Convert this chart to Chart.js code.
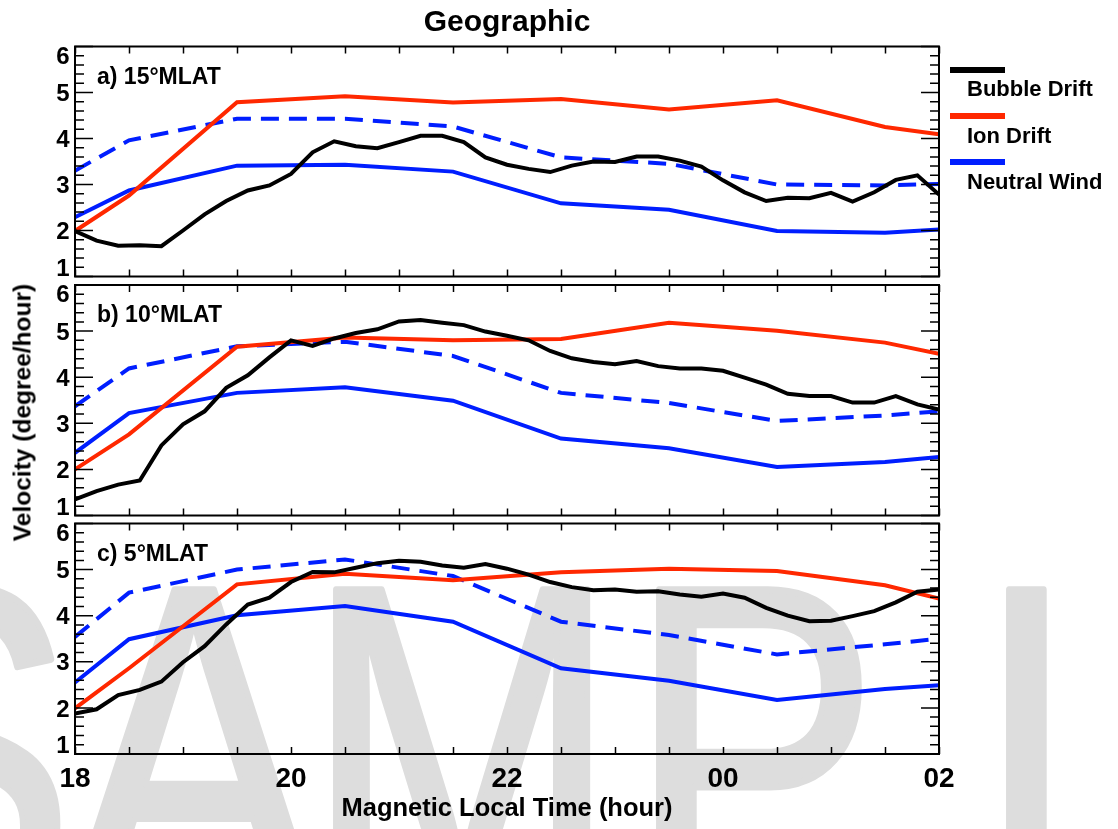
<!DOCTYPE html>
<html>
<head>
<meta charset="utf-8">
<script src="https://cdn.jsdelivr.net/npm/chart.js@4.4.0/dist/chart.umd.min.js"></script>
<style>
  html, body { margin: 0; padding: 0; background: #fff; }
  #wrap { position: relative; width: 1118px; height: 829px; overflow: hidden; font-family: "Liberation Sans", Arial, sans-serif; color: #000; }
  canvas { position: absolute; left: 0; }
  .txt { position: absolute; white-space: nowrap; line-height: 1; font-weight: bold; }
  .key { position: absolute; left: 950px; width: 55px; height: 6px; }
</style>
</head>
<body>
<div id="wrap">
  <canvas id="pa" width="1118" height="281" style="top:0px"></canvas>
  <canvas id="pb" width="1118" height="239" style="top:281px"></canvas>
  <canvas id="pc" width="1118" height="309" style="top:520px"></canvas>

  <div class="txt" style="left:257px; top:5.6px; width:500px; text-align:center; font-size:30px;">Geographic</div>
  <div class="txt" style="left:207px; top:795.4px; width:600px; text-align:center; font-size:25.5px;">Magnetic Local Time (hour)</div>
  <div class="txt" style="left:-177.3px; top:399.5px; width:400px; height:25px; text-align:center; font-size:24.5px; transform:rotate(-90deg);">Velocity (degree/hour)</div>

  <div class="key" style="top:67px; background:#000;"></div>
  <div class="txt" style="left:967px; top:78.1px; font-size:22px;">Bubble Drift</div>
  <div class="key" style="top:113px; background:rgb(255,40,0);"></div>
  <div class="txt" style="left:967px; top:124.7px; font-size:22px;">Ion Drift</div>
  <div class="key" style="top:159px; background:rgb(0,30,255);"></div>
  <div class="txt" style="left:967px; top:170.7px; font-size:22px;">Neutral Wind</div>
</div>

<script>
// magnetic local time of the samples (24 = 00, 26 = 02)
const bubbleHours = [18.0, 18.2, 18.4, 18.6, 18.8, 19.0, 19.2, 19.4, 19.6, 19.8,
                     20.0, 20.2, 20.4, 20.6, 20.8, 21.0, 21.2, 21.4, 21.6, 21.8,
                     22.0, 22.2, 22.4, 22.6, 22.8, 23.0, 23.2, 23.4, 23.6, 23.8,
                     24.0, 24.2, 24.4, 24.6, 24.8, 25.0, 25.2, 25.4, 25.6, 25.8, 26.0];
const modelHours = [18, 18.5, 19.5, 20.5, 21.5, 22.5, 23.5, 24.5, 25.5, 26];

// a) 15 MLAT
const bubble15 = [1.99, 1.78, 1.67, 1.68, 1.66, 2.00, 2.35, 2.64, 2.87, 2.98,
                  3.23, 3.70, 3.94, 3.83, 3.79, 3.92, 4.06, 4.06, 3.92, 3.59,
                  3.43, 3.34, 3.27, 3.41, 3.50, 3.49, 3.61, 3.61, 3.52, 3.39,
                  3.09, 2.83, 2.64, 2.71, 2.70, 2.82, 2.63, 2.83, 3.10, 3.20, 2.78];
const ion15 = [1.99, 2.76, 4.79, 4.92, 4.78, 4.86, 4.63, 4.83, 4.25, 4.09];
const wind15 = [2.29, 2.87, 3.41, 3.43, 3.28, 2.59, 2.45, 1.99, 1.95, 2.02];
const windDash15 = [3.30, 3.96, 4.43, 4.43, 4.26, 3.59, 3.45, 3.00, 2.98, 3.01];

// b) 10 MLAT
const bubble10 = [1.35, 1.53, 1.67, 1.76, 2.52, 2.98, 3.26, 3.77, 4.04, 4.43,
                  4.80, 4.68, 4.84, 4.96, 5.04, 5.21, 5.24, 5.18, 5.13, 4.99,
                  4.90, 4.80, 4.57, 4.41, 4.33, 4.28, 4.35, 4.24, 4.19, 4.19,
                  4.14, 3.99, 3.84, 3.64, 3.59, 3.59, 3.45, 3.45, 3.59, 3.41, 3.30];
const ion10 = [2.00, 2.76, 4.66, 4.86, 4.80, 4.83, 5.18, 5.01, 4.75, 4.51];
const wind10 = [2.36, 3.22, 3.66, 3.78, 3.49, 2.67, 2.46, 2.05, 2.16, 2.27];
const windDash10 = [3.37, 4.19, 4.67, 4.77, 4.46, 3.66, 3.44, 3.05, 3.17, 3.26];

// c) 5 MLAT
const bubble5 = [1.88, 1.97, 2.28, 2.39, 2.57, 2.99, 3.34, 3.81, 4.24, 4.39,
                 4.73, 4.95, 4.94, 5.04, 5.14, 5.19, 5.17, 5.09, 5.04, 5.12,
                 5.02, 4.89, 4.73, 4.62, 4.55, 4.57, 4.52, 4.53, 4.46, 4.41,
                 4.48, 4.39, 4.17, 4.00, 3.88, 3.89, 3.99, 4.10, 4.29, 4.52, 4.57];
const ion5 = [1.99, 2.86, 4.68, 4.91, 4.77, 4.94, 5.02, 4.97, 4.66, 4.37];
const wind5 = [2.55, 3.49, 4.01, 4.21, 3.87, 2.86, 2.59, 2.17, 2.41, 2.49];
const windDash5 = [3.54, 4.50, 5.00, 5.22, 4.86, 3.87, 3.58, 3.16, 3.38, 3.50];

// axis ticks
const hourTicks = [18, 20, 22, 24, 26];
const hourTickLabels = ['18', '20', '22', '00', '02'];
const hourMinorTicks = [18, 18.5, 19, 19.5, 20, 20.5, 21, 21.5, 22, 22.5, 23, 23.5, 24, 24.5, 25, 25.5, 26];
const speedTicks = [1, 2, 3, 4, 5, 6];
const speedTickLabels = ['1', '2', '3', '4', '5', '6'];
const speedMinorTicks = [1.2, 1.4, 1.6, 1.8, 2.2, 2.4, 2.6, 2.8, 3.2, 3.4, 3.6, 3.8,
                         4.2, 4.4, 4.6, 4.8, 5.2, 5.4, 5.6, 5.8];

const BLACK = '#000000';
const RED = 'rgb(255,40,0)';
const BLUE = 'rgb(0,30,255)';
const FONT = '"Liberation Sans", Arial, sans-serif';

function pairs(xs, ys) {
    return ys.map((v, i) => ({ x: xs[i], y: v }));
}

function drawWatermark(ctx) {
    // stock "SAMPLE" overlay that sits behind the lower panel
    const letters = [['S', -176], ['A', 68], ['M', 305], ['P', 628], ['L', 978], ['E', 1190]];
    ctx.save();
    ctx.fillStyle = 'rgb(221,221,221)';
    ctx.strokeStyle = 'rgb(221,221,221)';
    ctx.lineWidth = 7;
    ctx.lineJoin = 'round';
    ctx.font = '470px ' + FONT;
    ctx.textBaseline = 'alphabetic';
    letters.forEach(([ch, lx]) => {
        ctx.save();
        ctx.translate(lx, 913 - 520);
        ctx.scale(0.8, 1);
        ctx.fillText(ch, 0, 0);
        ctx.strokeText(ch, 0, 0);
        ctx.restore();
    });
    ctx.restore();
}

const frame = {
    id: 'frame',
    beforeDraw(chart, args, opts) {
        if (opts.watermark) drawWatermark(chart.ctx);
    },
    afterDatasetsDraw(chart, args, opts) {
        const ctx = chart.ctx;
        const a = chart.chartArea;
        const x = chart.scales.x;
        const y = chart.scales.y;
        ctx.save();
        ctx.strokeStyle = '#000';
        ctx.lineWidth = 2;
        ctx.strokeRect(a.left, a.top, a.right - a.left, a.bottom - a.top);

        ctx.lineWidth = 1.5;
        ctx.beginPath();
        hourMinorTicks.forEach(h => {
            const px = Math.round(x.getPixelForValue(h)) + 0.5;
            ctx.moveTo(px, a.top); ctx.lineTo(px, a.top + 7);
            ctx.moveTo(px, a.bottom); ctx.lineTo(px, a.bottom - 7);
        });
        speedTicks.forEach(v => {
            const py = y.getPixelForValue(v);
            ctx.moveTo(a.left, py); ctx.lineTo(a.left + 18, py);
            ctx.moveTo(a.right, py); ctx.lineTo(a.right - 18, py);
        });
        speedMinorTicks.forEach(v => {
            const py = y.getPixelForValue(v);
            ctx.moveTo(a.left, py); ctx.lineTo(a.left + 9, py);
            ctx.moveTo(a.right, py); ctx.lineTo(a.right - 9, py);
        });
        ctx.stroke();

        ctx.fillStyle = '#000';
        ctx.font = 'bold 24px ' + FONT;
        ctx.textAlign = 'right';
        ctx.textBaseline = 'alphabetic';
        speedTicks.forEach((v, i) => {
            let cy = y.getPixelForValue(v);
            cy = Math.min(Math.max(cy, a.top + 8.5), a.bottom - 9.5);
            ctx.fillText(speedTickLabels[i], a.left - 5.5, cy + 8.6);
        });

        ctx.font = 'bold 23px ' + FONT;
        ctx.textAlign = 'left';
        ctx.fillText(opts.label, a.left + 22, a.top + 37);

        if (opts.hourLabels) {
            ctx.font = 'bold 28px ' + FONT;
            ctx.textAlign = 'center';
            hourTicks.forEach((h, i) => {
                ctx.fillText(hourTickLabels[i], x.getPixelForValue(h), a.bottom + 33);
            });
        }
        ctx.restore();
    }
};

function panel(id, label, bubble, ion, wind, windDash, padTop, padBottom, last) {
    new Chart(document.getElementById(id), {
        type: 'line',
        data: {
            datasets: [
                { label: 'Bubble Drift', data: pairs(bubbleHours, bubble), borderColor: BLACK },
                { label: 'Ion Drift', data: pairs(modelHours, ion), borderColor: RED },
                { label: 'Neutral Wind', data: pairs(modelHours, wind), borderColor: BLUE },
                { label: 'Neutral Wind (dashed)', data: pairs(modelHours, windDash), borderColor: BLUE, borderDash: [18, 10] }
            ]
        },
        options: {
            responsive: false,
            animation: false,
            devicePixelRatio: 1,
            layout: { padding: { left: 75, right: 179, top: padTop, bottom: padBottom } },
            elements: {
                line: { borderWidth: 4, tension: 0, fill: false },
                point: { radius: 0, hoverRadius: 0 }
            },
            scales: {
                x: { type: 'linear', min: 18, max: 26, display: false },
                y: { type: 'linear', min: 1, max: 6, display: false }
            },
            plugins: {
                legend: { display: false },
                tooltip: { enabled: false },
                frame: { label: label, hourLabels: last, watermark: last }
            }
        },
        plugins: [frame]
    });
}

panel('pa', 'a) 15\u00b0MLAT', bubble15, ion15, wind15, windDash15, 46.5, 4.5, false);
panel('pb', 'b) 10\u00b0MLAT', bubble10, ion10, wind10, windDash10, 4, 4.5, false);
panel('pc', 'c) 5\u00b0MLAT', bubble5, ion5, wind5, windDash5, 3.5, 75, true);
</script>
</body>
</html>
